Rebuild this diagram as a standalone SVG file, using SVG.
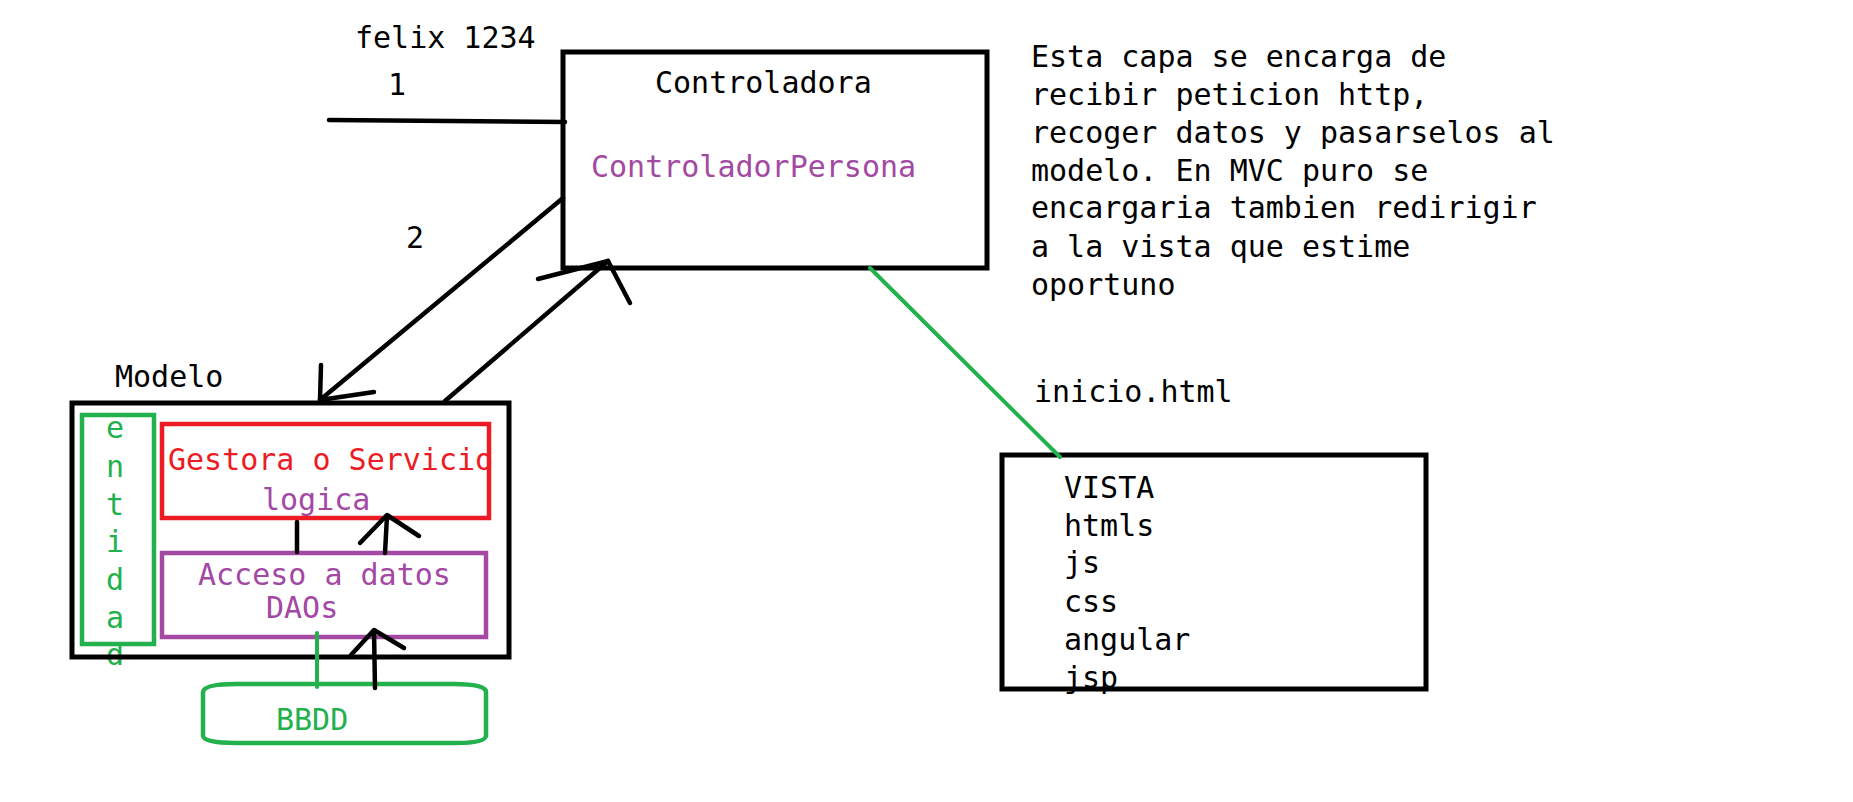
<svg xmlns="http://www.w3.org/2000/svg" width="1853" height="802" viewBox="0 0 1853 802">
<style>
  text { font-family: "DejaVu Sans Mono", "Liberation Mono", monospace; font-size: 30px; fill: #000; }
  .pur { fill: #A349A4; }
  .red { fill: #ED1C24; }
  .grn { fill: #22B14C; }
  .box { fill: none; stroke: #000; stroke-width: 5; }
  .ln { fill: none; stroke: #000; stroke-width: 4.5; stroke-linecap: round; stroke-linejoin: round; }
  .gln { fill: none; stroke: #22B14C; stroke-width: 4; stroke-linecap: round; }
  .ent text { text-anchor: middle; }
</style>
<rect x="0" y="0" width="1853" height="802" fill="#fff"/>

<g id="labels">
  <text x="355" y="48">felix 1234</text>
  <text x="388" y="95">1</text>
  <text x="406" y="248">2</text>
</g>

<g id="controladora">
  <rect class="box" x="563" y="52" width="424" height="216"/>
  <text x="655" y="93">Controladora</text>
  <text class="pur" x="591" y="177">ControladorPersona</text>
</g>

<g id="descripcion">
  <text x="1031" y="67">Esta capa se encarga de</text>
  <text x="1031" y="105">recibir peticion http,</text>
  <text x="1031" y="143">recoger datos y pasarselos al</text>
  <text x="1031" y="181">modelo. En MVC puro se</text>
  <text x="1031" y="218">encargaria tambien redirigir</text>
  <text x="1031" y="257">a la vista que estime</text>
  <text x="1031" y="295">oportuno</text>
</g>

<g id="modelo">
  <text x="115" y="387">Modelo</text>
  <g id="entidad" class="ent">
    <text class="grn" x="115" y="438">e</text>
    <text class="grn" x="115" y="477">n</text>
    <text class="grn" x="115" y="515">t</text>
    <text class="grn" x="115" y="552">i</text>
    <text class="grn" x="115" y="590">d</text>
    <text class="grn" x="115" y="628">a</text>
    <text class="grn" x="115" y="665">d</text>
    <rect x="82" y="415" width="72" height="229" fill="none" stroke="#22B14C" stroke-width="4.5"/>
  </g>
  <rect class="box" x="72" y="403" width="437" height="254"/>
  <g id="gestora">
    <text class="red" x="168" y="470">Gestora o Servicio</text>
    <text class="pur" x="262" y="510">logica</text>
    <rect x="162" y="424" width="327" height="94" fill="none" stroke="#ED1C24" stroke-width="4.5"/>
  </g>
  <g id="acceso">
    <text class="pur" x="198" y="585">Acceso a datos</text>
    <text class="pur" x="266" y="618">DAOs</text>
    <rect x="162" y="553" width="324" height="84" fill="none" stroke="#A349A4" stroke-width="4.5"/>
  </g>
</g>

<g id="bbdd">
  <path d="M203,692 Q204,684 236,684 L454,684 Q486,684 486,692 L486,736 Q485,743 455,743 L236,743 Q204,743 203,736 Z" fill="none" stroke="#22B14C" stroke-width="4.5"/>
  <text class="grn" x="276" y="730">BBDD</text>
</g>

<g id="vista">
  <text x="1034" y="402">inicio.html</text>
  <text x="1064" y="498">VISTA</text>
  <text x="1064" y="536">htmls</text>
  <text x="1064" y="573">js</text>
  <text x="1064" y="612">css</text>
  <text x="1064" y="650">angular</text>
  <text x="1064" y="688">jsp</text>
  <rect class="box" x="1002" y="455" width="424" height="234"/>
</g>

<g id="connectors">
  <line class="ln" x1="329" y1="120" x2="565" y2="122"/>
  <line class="ln" x1="563" y1="198" x2="320" y2="400"/>
  <polyline class="ln" points="321,365 320,400 374,392"/>
  <line class="ln" x1="445" y1="401" x2="608" y2="261"/>
  <polyline class="ln" points="538,279 608,261 630,303"/>
  <line class="ln" x1="297" y1="522" x2="297" y2="552"/>
  <line class="ln" x1="385" y1="553" x2="387" y2="516"/>
  <polyline class="ln" points="360,543 387,515 419,536"/>
  <line class="ln" x1="375" y1="688" x2="374" y2="631"/>
  <polyline class="ln" points="351,655 374,630 404,648"/>
  <line class="gln" x1="317" y1="633" x2="317" y2="687"/>
  <line class="gln" x1="870" y1="268" x2="1060" y2="457"/>
</g>
</svg>
